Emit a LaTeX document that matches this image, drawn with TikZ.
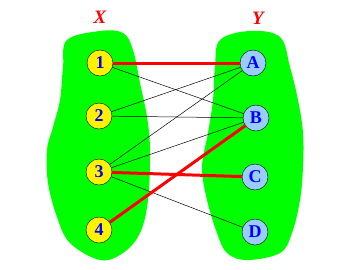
\documentclass[tikz,border=0pt]{standalone}
\usepackage{fontspec}
\setmainfont{Liberation Serif}
\usepackage{tikz}

\definecolor{blobgreen}{RGB}{0,255,0}
\definecolor{lightblue}{RGB}{153,204,255}

\begin{document}
\begin{tikzpicture}[x=1pt,y=-1pt,
  xnode/.style={circle,draw,thin,fill=yellow,minimum size=26pt,inner sep=0pt,
    text=blue,font=\fontsize{18}{18}\selectfont\bfseries},
  ynode/.style={xnode,fill=lightblue},
  plain/.style={black,line width=0.5pt},
  match/.style={red,line width=3pt}]
\useasboundingbox (0,0) rectangle (348,269);

\fill[blobgreen] plot[smooth cycle,tension=0.6] coordinates{(100,31) (123,33) (133,50) (140,83)
  (147,117) (150,150) (148,200) (140,233) (123,253) (100,260) (70,243) (57,217)
  (48,183) (47,150) (53,127) (60,100) (63,67) (67,40)};
\fill[blobgreen] plot[smooth cycle,tension=0.6] coordinates{(250,31) (280,37) (290,67) (298,100)
  (303,133) (303,167) (300,200) (292,233) (280,253) (247,260) (227,253) (217,233)
  (207,200) (202,167) (208,133) (213,100) (215,67) (220,40)};

\node[text=red,font=\fontsize{19}{19}\selectfont\bfseries\itshape] (labX) at (100,17) {X};
\node[text=red,font=\fontsize{19}{19}\selectfont\bfseries\itshape] (labY) at (258,18) {Y};

\node[xnode] (n1) at (100,63) {1};
\node[xnode] (n2) at (99,116) {2};
\node[xnode] (n3) at (99,172) {3};
\node[xnode] (n4) at (99,230) {4};

\node[ynode] (nA) at (253,63) {A};
\node[ynode] (nB) at (256,118) {B};
\node[ynode] (nC) at (255,177) {C};
\node[ynode] (nD) at (255,232) {D};

\draw[plain] (n1)--(nB);
\draw[plain] (n2)--(nA);\draw[plain] (n2)--(nB);
\draw[plain] (n3)--(nA);\draw[plain] (n3)--(nB);
\draw[plain] (n3)--(nD);

\draw[match] (n1)--(nA);
\draw[match] (n3)--(nC);
\draw[match] (n4)--(nB);
\end{tikzpicture}
\end{document}
